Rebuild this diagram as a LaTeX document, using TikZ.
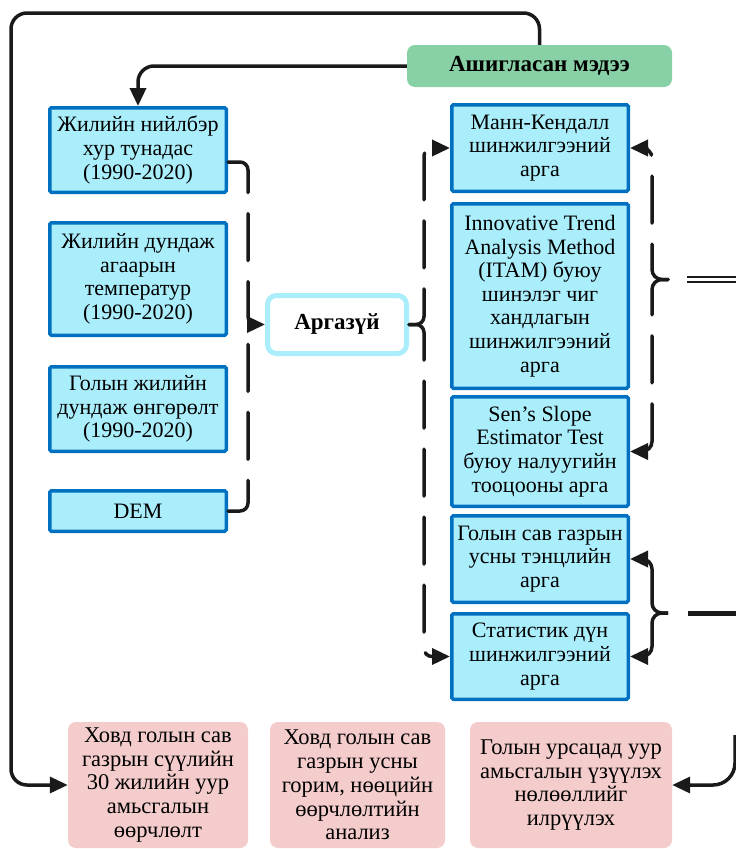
\documentclass[tikz,border=0pt]{standalone}
\usepackage{fontspec}
\setmainfont{Liberation Serif}
\usetikzlibrary{arrows.meta,calc}
\definecolor{boxfill}{RGB}{170,238,252}
\definecolor{boxline}{RGB}{0,112,192}
\definecolor{greenfill}{RGB}{136,208,165}
\definecolor{pinkfill}{RGB}{244,204,204}
\definecolor{argline}{RGB}{170,238,252}
\definecolor{conline}{RGB}{26,26,26}
\begin{document}
\begin{tikzpicture}[x=1pt,y=-1pt,
  every node/.style={font=\fontsize{22}{23.6}\selectfont, align=center, inner sep=0pt, text=black},
  databox/.style={draw=boxline, fill=boxfill, line width=3.5pt, rounded corners=1.5pt, minimum width=176.5pt},
  greenbox/.style={fill=greenfill, rounded corners=8pt, minimum width=265pt, minimum height=42pt, font=\fontsize{23}{24}\selectfont\bfseries},
  argbox/.style={draw=argline, fill=white, line width=5pt, rounded corners=9pt, minimum width=139pt, minimum height=58pt, font=\fontsize{23}{24}\selectfont\bfseries},
  pinkbox/.style={fill=pinkfill, rounded corners=8pt, minimum height=126pt, font=\fontsize{22.5}{23.8}\selectfont},
  con/.style={draw=conline, line width=3.5pt},
  dashcon/.style={con, line cap=round, dash pattern=on 47pt off 21pt},
  tip/.style={-{Triangle[length=18pt,width=16pt]}},
  dblline/.style={draw=conline, double=white, double distance=2.6pt, line width=2.2pt},
  thickline/.style={draw=conline, line width=5pt}
]
\useasboundingbox (0,0) rectangle (736,849);

% nodes
\node[greenbox] (green) at (539.5,66) {Ашигласан мэдээ};

\node[databox, minimum height=84.5pt] (b1) at (138,150) {Жилийн нийлбэр\\хур тунадас\\(1990-2020)};
\node[databox, minimum height=112.5pt] (b2) at (138,279) {Жилийн дундаж\\агаарын\\температур\\(1990-2020)};
\node[databox, minimum height=84.5pt] (b3) at (138,409) {Голын жилийн\\дундаж өнгөрөлт\\(1990-2020)};
\node[databox, minimum height=40.5pt] (b4) at (138,511) {DEM};

\node[argbox] (arg) at (337,324.5) {Аргазүй};

\node[databox, minimum height=86.5pt] (r1) at (540,148) {Манн-Кендалл\\шинжилгээний\\арга};
\node[databox, minimum height=184.5pt] (r2) at (540,296) {Innovative Trend\\Analysis Method\\(ITAM) буюу\\шинэлэг чиг\\хандлагын\\шинжилгээний\\арга};
\node[databox, minimum height=109.5pt] (r3) at (540,451.5) {Sen’s Slope\\Estimator Test\\буюу налуугийн\\тооцооны арга};
\node[databox, minimum height=86.5pt] (r4) at (540,559) {Голын сав газрын\\усны тэнцлийн\\арга};
\node[databox, minimum height=85.5pt] (r5) at (540,656.5) {Статистик дүн\\шинжилгээний\\арга};

\node[pinkbox, minimum width=180pt] (p1) at (158,785) {Ховд голын сав\\газрын сүүлийн\\30 жилийн уур\\амьсгалын\\өөрчлөлт};
\node[pinkbox, minimum width=175pt] (p2) at (357.5,785) {Ховд голын сав\\газрын усны\\горим, нөөцийн\\өөрчлөлтийн\\анализ};
\node[pinkbox, minimum width=202pt] (p3) at (571,785) {Голын урсацад уур\\амьсгалын үзүүлэх\\нөлөөллийг\\илрүүлэх};

% coordinates
\coordinate (tl) at (11,13);
\coordinate (b1e) at ($(b1.east)+(0,12)$);
\coordinate (lsp) at (248,324.5);
\coordinate (lspb) at (248,337);
\coordinate (rsp) at (424,324.5);
\coordinate (t1) at (668,279.5);
\coordinate (s1) at (652,279.5);
\coordinate (d1a) at (687,279.5);
\coordinate (d1b) at (736,279.5);
\coordinate (t2) at (668,613);
\coordinate (s2) at (652,613);
\coordinate (d2a) at (688,613);
\coordinate (d2b) at (736,613);
\coordinate (br) at (735,735);

% top loop and data arrow
\draw[con, tip, rounded corners=16pt] (green.north) |- (tl) |- (p1.west);
\draw[con, tip, rounded corners=16pt] (green.west) -| (b1.north);

% left bracket
\draw[dashcon, tip, rounded corners=8pt] (b1e) -| (lsp) -- (arg.west);
\draw[dashcon, rounded corners=8pt] (b4.east) -| (lspb);

% bracket from Аргазүй
\draw[dashcon, tip, rounded corners=8pt] (arg.east) -- (rsp) |- (r1.west);
\draw[dashcon, tip, rounded corners=8pt] (arg.east) -- (rsp) |- (r5.west);

% right brace 1
\draw[dashcon, tip, rounded corners=10pt] (t1) -- (s1) |- (r1.east);
\draw[dashcon, tip, rounded corners=10pt] (t1) -- (s1) |- (r3.east);
\draw[dblline] (d1a) -- (d1b);

% right brace 2
\draw[con, tip, rounded corners=10pt] (t2) -- (s2) |- (r4.east);
\draw[con, tip, rounded corners=10pt] (t2) -- (s2) |- (r5.east);
\draw[thickline] (d2a) -- (d2b);

% bottom right arrow
\draw[con, tip, rounded corners=22pt] (br) |- (p3.east);
\end{tikzpicture}
\end{document}
